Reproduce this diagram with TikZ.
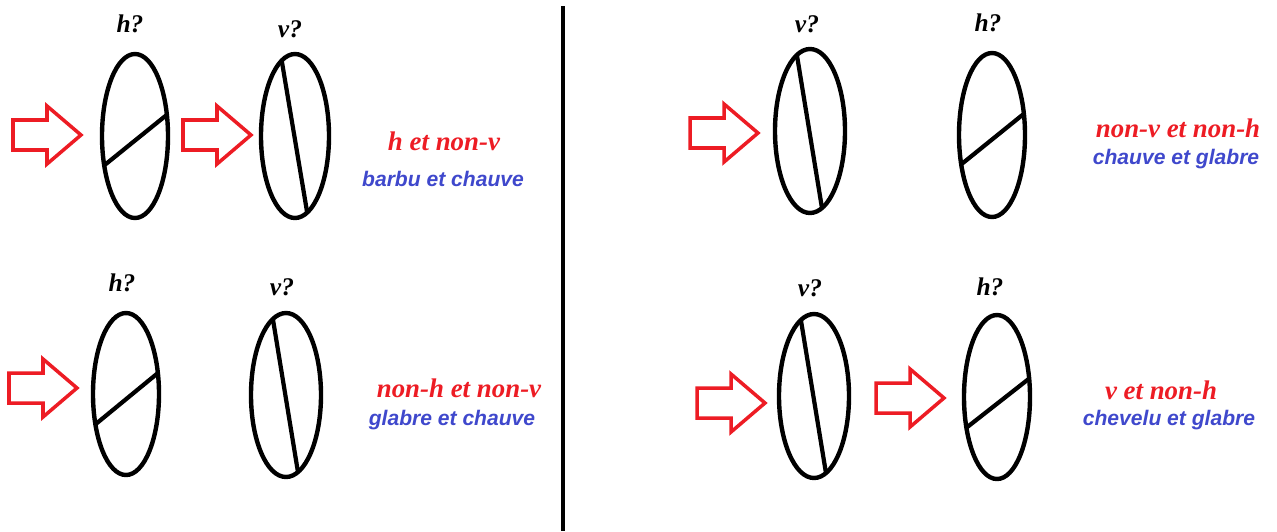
\documentclass[tikz,border=0pt]{standalone}
\usepackage{fontspec}
\setmainfont{Liberation Serif}
\newfontfamily\blueface{Liberation Sans}
\usetikzlibrary{calc}
\definecolor{pred}{HTML}{ED1C24}
\definecolor{pblue}{HTML}{3F48CC}
\tikzset{
  oval/.style={draw=black, line width=2.5pt},
  chord/.style={draw=black, line width=2.4pt},
  redarrow/.style={draw=pred, line width=2pt, line join=miter},
  qlabel/.style={anchor=base, inner sep=0pt, font=\fontsize{14.5}{14}\selectfont\bfseries\itshape},
  redlabel/.style={anchor=base, inner sep=0pt, text=pred, font=\fontsize{15.3}{15}\selectfont\bfseries\itshape},
  bluelabel/.style={anchor=base, inner sep=0pt, text=pblue, font=\blueface\fontsize{12}{12}\selectfont\bfseries\itshape},
  pics/blockarrow/.style={code={\draw[redarrow] (0,-15) -- (34,-15) -- (34,-29) -- (68,0) -- (34,29) -- (34,15) -- (0,15) -- cycle;}}
}
\begin{document}
\begin{tikzpicture}[x=0.02cm, y=-0.02cm]
\useasboundingbox (0,0) rectangle (1277,531);

% divider
\coordinate (divtop) at (563,6);
\coordinate (divbot) at (563,531);
\draw[black, line width=2.3pt] (divtop) -- (divbot);

% ---------- top left ----------
\pic at (13,135) {blockarrow};
\pic at (183,135) {blockarrow};
\coordinate (e1) at (135,136);
\draw[oval] (e1) ellipse [x radius=33, y radius=82];
\draw[chord] ($(e1)+(159:33 and 82)$) -- ($(e1)+(-15:33 and 82)$);
\coordinate (e2) at (295,136);
\draw[oval] (e2) ellipse [x radius=34, y radius=82];
\draw[chord] ($(e2)+(-113:34 and 82)$) -- ($(e2)+(69:34 and 82)$);
\node[qlabel] (q1) at (130,32) {h?};
\node[qlabel] (q2) at (290,37) {v?};
\node[redlabel] (r1) at (444,150) {h et non-v};
\node[bluelabel] (b1) at (443,186) {barbu et chauve};

% ---------- bottom left ----------
\pic at (9,388) {blockarrow};
\coordinate (e3) at (126,394);
\draw[oval] (e3) ellipse [x radius=33, y radius=81];
\draw[chord] ($(e3)+(158:33 and 81)$) -- ($(e3)+(-15:33 and 81)$);
\coordinate (e4) at (286,395);
\draw[oval] (e4) ellipse [x radius=35, y radius=82];
\draw[chord] ($(e4)+(-112:35 and 82)$) -- ($(e4)+(70:35 and 82)$);
\node[qlabel] (q3) at (122,291) {h?};
\node[qlabel] (q4) at (282,295) {v?};
\node[redlabel] (r2) at (459,397) {non-h et non-v};
\node[bluelabel] (b2) at (452,425) {glabre et chauve};

% ---------- top right ----------
\pic at (690,133) {blockarrow};
\coordinate (e5) at (810,131);
\draw[oval] (e5) ellipse [x radius=35, y radius=82];
\draw[chord] ($(e5)+(-112:35 and 82)$) -- ($(e5)+(70:35 and 82)$);
\coordinate (e6) at (992,135);
\draw[oval] (e6) ellipse [x radius=33, y radius=82];
\draw[chord] ($(e6)+(159:33 and 82)$) -- ($(e6)+(-15:33 and 82)$);
\node[qlabel] (q5) at (807,32) {v?};
\node[qlabel] (q6) at (988,31) {h?};
\node[redlabel] (r3) at (1178,137) {non-v et non-h};
\node[bluelabel] (b3) at (1176,164) {chauve et glabre};

% ---------- bottom right ----------
\pic at (697,403) {blockarrow};
\pic at (876,398) {blockarrow};
\coordinate (e7) at (814,396);
\draw[oval] (e7) ellipse [x radius=35, y radius=82];
\draw[chord] ($(e7)+(-112:35 and 82)$) -- ($(e7)+(70:35 and 82)$);
\coordinate (e8) at (997,397);
\draw[oval] (e8) ellipse [x radius=33, y radius=82];
\draw[chord] ($(e8)+(158:33 and 82)$) -- ($(e8)+(-13:33 and 82)$);
\node[qlabel] (q7) at (810,296) {v?};
\node[qlabel] (q8) at (990,295) {h?};
\node[redlabel] (r4) at (1161,399) {v et non-h};
\node[bluelabel] (b4) at (1169,425) {chevelu et glabre};
\end{tikzpicture}
\end{document}
